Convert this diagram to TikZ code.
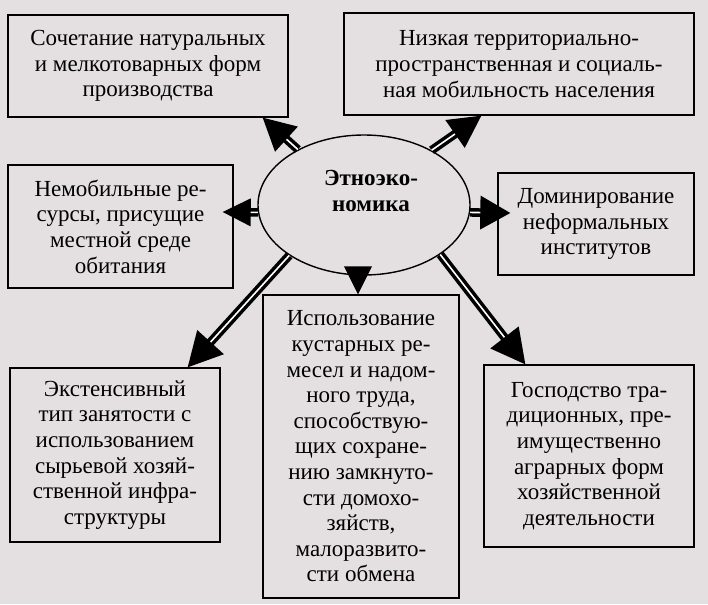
\documentclass[tikz,border=0pt]{standalone}
\usepackage{fontspec}
\setmainfont{Liberation Serif}
\usetikzlibrary{calc,shapes.geometric}
\definecolor{paper}{RGB}{228,224,225}
\tikzset{
  box/.style={draw=black, line width=1.4pt, align=center, inner sep=0pt,
    font=\fontsize{23}{25.6}\selectfont},
  shaft/.style={draw=black, line width=3.5pt, double=white, double distance=1.6pt},
}
\newcommand\fatarrow[4]{% tail, tip, head length, head half width
  \draw[shaft, shorten >=#3-8pt] (#1) -- (#2);
  \coordinate (hb) at ($(#2)!#3!(#1)$);
  \fill[black] (#2) -- ($(hb)!#4!90:(#2)$) -- ($(hb)!#4!-90:(#2)$) -- cycle;}
\newcommand\fathead[4]{%
  \coordinate (hb) at ($(#2)!#3!(#1)$);
  \fill[black] (#2) -- ($(hb)!#4!90:(#2)$) -- ($(hb)!#4!-90:(#2)$) -- cycle;}
\begin{document}
\begin{tikzpicture}[x=1pt,y=-1pt]
\fill[paper] (0,0) rectangle (708,604);
\useasboundingbox (0,0) rectangle (708,604);

\node[box, minimum width=280pt, minimum height=102pt] (b1) at (148,66)
  {Сочетание натуральных\\и мелкотоварных форм\\производства};
\node[box, minimum width=350pt, minimum height=102pt] (b2) at (519,64)
  {Низкая территориально-\\пространственная и социаль-\\ная мобильность населения};
\node[box, minimum width=225pt, minimum height=123pt] (b3) at (120.5,226.5)
  {Немобильные ре-\\сурсы, присущие\\местной среде\\обитания};
\node[box, minimum width=196pt, minimum height=102pt] (b4) at (596,224)
  {Доминирование\\неформальных\\институтов};
\node[box, minimum width=210pt, minimum height=174pt] (b5) at (115,455)
  {Экстенсивный\\тип занятости с\\использованием\\сырьевой хозяй-\\ственной инфра-\\структуры};
\node[box, minimum width=196pt, minimum height=303pt] (b6) at (361,446.5)
  {Использование\\кустарных ре-\\месел и надом-\\ного труда,\\способствую-\\щих сохране-\\нию замкнуто-\\сти домохо-\\зяйств,\\малоразвито-\\сти обмена};
\node[box, minimum width=210pt, minimum height=182pt] (b7) at (589,456)
  {Господство тра-\\диционных, пре-\\имущественно\\аграрных форм\\хозяйственной\\деятельности};

\node[ellipse, draw=black, line width=1.4pt, minimum width=212pt, minimum height=140pt, inner sep=0pt] (e) at (364,205) {};
\node[align=center, inner sep=0pt, font=\fontsize{23}{26.5}\selectfont\bfseries] (et) at ($(e.center)+(7,-14)$) {Этноэко-\\номика};

\coordinate (s1) at (e.140);
\coordinate (t1) at ($(b1.south east)+(-26,0)$);
\coordinate (s2) at (e.39);
\coordinate (t2) at ($(b2.south west)+(138,0)$);
\coordinate (s3) at (e.184);
\coordinate (t3) at ($(b3.east)+(-11,-14.5)$);
\coordinate (s4) at (e.356);
\coordinate (t4) at ($(b4.west)+(13,-11)$);
\coordinate (t5) at ($(b6.north)+(-3,0)$);
\coordinate (s5) at ($(t5)+(0,-40)$);
\coordinate (s6) at (e.214);
\coordinate (t6) at ($(b5.north east)+(-33,0)$);
\coordinate (s7) at (e.327);
\coordinate (t7) at ($(b7.north west)+(42,0)$);

\fatarrow{s1}{t1}{32pt}{17pt}
\fatarrow{s2}{t2}{32pt}{17pt}
\fatarrow{s3}{t3}{28pt}{14pt}
\fatarrow{s4}{t4}{30pt}{17pt}
\fathead{s5}{t5}{28pt}{14pt}
\fatarrow{s6}{t6}{34pt}{18pt}
\fatarrow{s7}{t7}{34pt}{18pt}
\end{tikzpicture}
\end{document}
